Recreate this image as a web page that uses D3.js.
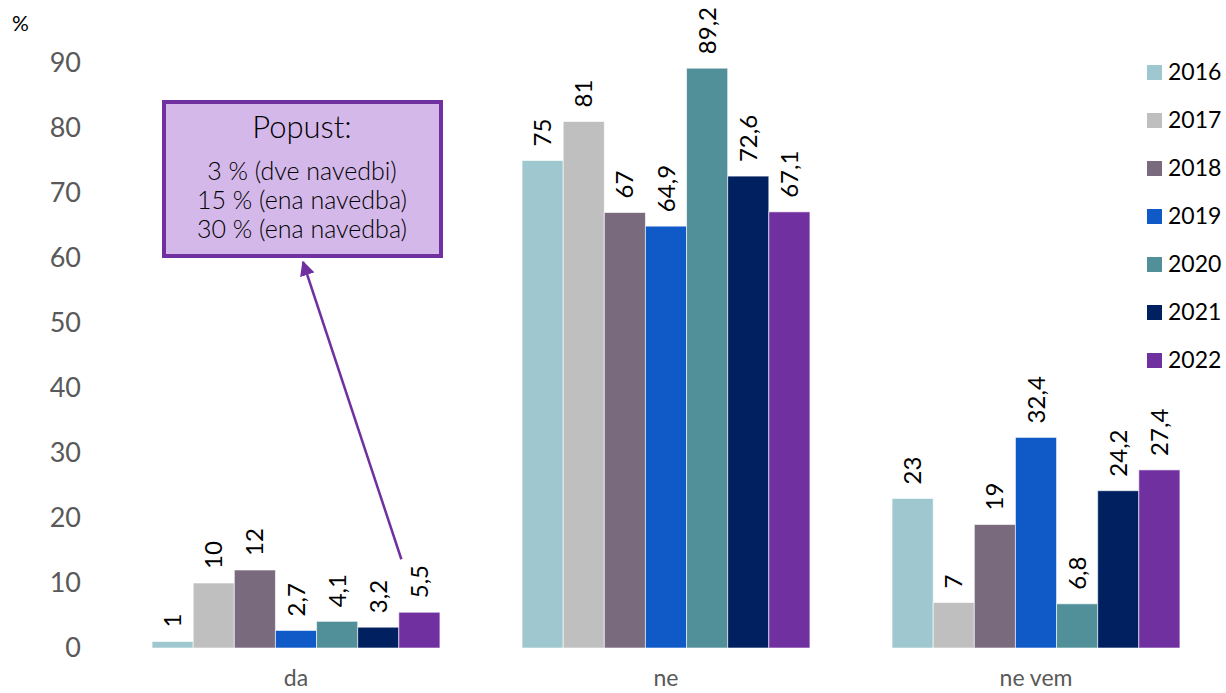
<!DOCTYPE html>
<html>
<head>
<meta charset="utf-8">
<script src="https://cdn.jsdelivr.net/npm/d3@7"></script>
<style>
  html, body { margin: 0; padding: 0; background: #fff; }
  svg { display: block; font-family: Lato, "Open Sans", sans-serif; }
</style>
</head>
<body>
<svg id="chart" width="1226" height="693"></svg>
<script>
const categories = ["da", "ne", "ne vem"];
const years = ["2016", "2017", "2018", "2019", "2020", "2021", "2022"];
const values2016 = [1, 75, 23];
const values2017 = [10, 81, 7];
const values2018 = [12, 67, 19];
const values2019 = [2.7, 64.9, 32.4];
const values2020 = [4.1, 89.2, 6.8];
const values2021 = [3.2, 72.6, 24.2];
const values2022 = [5.5, 67.1, 27.4];
const yTicks = [0, 10, 20, 30, 40, 50, 60, 70, 80, 90];
const noteTitle = "Popust:";
const noteLines = ["3 % (dve navedbi)", "15 % (ena navedba)", "30 % (ena navedba)"];
const colors = ["#9fc7cf", "#bfbfbf", "#7a6a7d", "#0f5ac6", "#518f99", "#002060", "#7030a0"];

const series = [values2016, values2017, values2018, values2019, values2020, values2021, values2022];

const svg = d3.select("#chart");
const fmt = v => String(v).replace(".", ",");

const x0 = d3.scaleBand().domain(categories).range([111, 1221]).paddingInner(0.222).paddingOuter(0.111);
const x1 = d3.scaleBand().domain(years).range([0, x0.bandwidth()]);
const y = d3.scaleLinear().domain([0, 90]).range([648, 63]);

// y axis labels
const yAxis = d3.axisLeft(y).tickValues(yTicks).tickSize(0).tickPadding(0).tickFormat(d3.format("d"));
const gy = svg.append("g").attr("transform", "translate(81,0)").call(yAxis);
gy.select(".domain").remove();
gy.selectAll("text").attr("font-size", 27).attr("fill", "#595959").attr("font-family", "Lato, sans-serif");

// x axis labels
const xAxis = d3.axisBottom(x0).tickSize(0).tickPadding(0);
const gx = svg.append("g").attr("transform", "translate(0,670)").call(xAxis);
gx.select(".domain").remove();
gx.selectAll("text").attr("font-size", 23).attr("fill", "#595959").attr("font-family", "Lato, sans-serif");

// "%" label
svg.append("text").attr("x", 12).attr("y", 31).attr("font-size", 21).attr("fill", "#000").text("%");

// bars
const groups = svg.append("g").selectAll("g").data(categories).join("g")
  .attr("transform", d => `translate(${x0(d)},0)`);

groups.each(function(cat, ci) {
  const g = d3.select(this);
  years.forEach((yr, si) => {
    const v = series[si][ci];
    g.append("rect")
      .attr("x", x1(yr))
      .attr("y", y(v))
      .attr("width", x1.bandwidth())
      .attr("height", y(0) - y(v))
      .attr("fill", colors[si])
      .attr("stroke", "#ffffff")
      .attr("stroke-opacity", 0.6)
      .attr("stroke-width", 1);
    const cx = x1(yr) + x1.bandwidth() / 2;
    g.append("text")
      .attr("transform", `translate(${cx + 8.5},${y(v) - 14}) rotate(-90)`)
      .attr("font-size", 24)
      .attr("fill", "#000")
      .attr("text-anchor", "start")
      .text(fmt(v));
  });
});

// legend
const legend = svg.append("g");
years.forEach((yr, i) => {
  const ly = 72 + i * 48;
  legend.append("rect").attr("x", 1147).attr("y", ly - 7).attr("width", 15).attr("height", 15).attr("fill", colors[i]);
  legend.append("text").attr("x", 1168).attr("y", ly + 8).attr("font-size", 23).attr("fill", "#000").text(yr);
});

// annotation arrow
const defs = svg.append("defs");
defs.append("marker").attr("id", "ah").attr("viewBox", "0 0 10 10").attr("refX", 9).attr("refY", 5)
  .attr("markerWidth", 6).attr("markerHeight", 6).attr("markerUnits", "strokeWidth").attr("orient", "auto")
  .append("path").attr("d", "M0,0 L10,5 L0,10 z").attr("fill", "#7030a0");

const arrowStart = [x0("da") + x1("2022") + x1.bandwidth() / 2 - 18, y(5.5) - 53];
svg.append("line")
  .attr("x1", arrowStart[0]).attr("y1", arrowStart[1])
  .attr("x2", 303).attr("y2", 262)
  .attr("stroke", "#7030a0").attr("stroke-width", 2.5)
  .attr("marker-end", "url(#ah)");

// annotation box
svg.append("rect").attr("x", 164).attr("y", 102).attr("width", 277).attr("height", 154)
  .attr("fill", "#d5b8ea").attr("stroke", "#7030a0").attr("stroke-width", 4);
svg.append("text").attr("x", 302).attr("y", 138).attr("text-anchor", "middle").attr("font-size", 31).attr("font-weight", 300).attr("fill", "#000").text(noteTitle);
noteLines.forEach((t, i) => {
  svg.append("text").attr("x", 302).attr("y", 180 + i * 29).attr("text-anchor", "middle").attr("font-size", 25).attr("font-weight", 300).attr("fill", "#000").text(t);
});
</script>
</body>
</html>
